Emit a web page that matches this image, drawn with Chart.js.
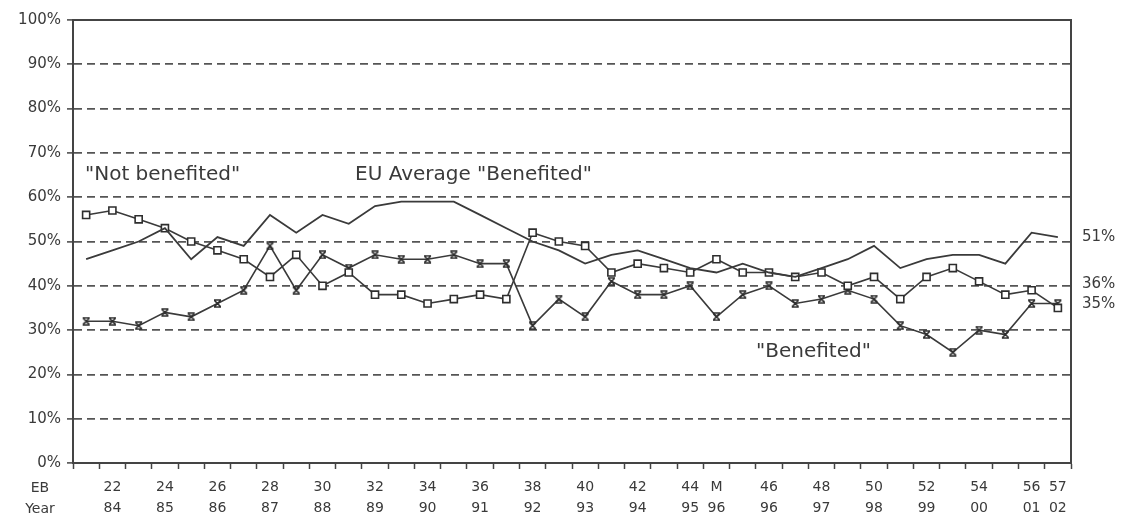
<!DOCTYPE html>
<html>
<head>
<meta charset="utf-8">
<script src="https://cdn.jsdelivr.net/npm/chart.js@4/dist/chart.umd.min.js"></script>
<style>
  html, body { margin: 0; padding: 0; background: #fff; }
  #wrap { width: 1127px; height: 519px; position: relative; }
</style>
</head>
<body>
<div id="wrap"><canvas id="chart" width="1127" height="519"></canvas></div>
<script>
// Eurobarometer survey waves (EB number / survey year); only alternate waves are labelled
const ebLabels = ['', '22', '', '24', '', '26', '', '28', '', '30', '', '32', '', '34', '', '36', '', '38', '', '40',
                  '', '42', '', '44', 'M', '', '46', '', '48', '', '50', '', '52', '', '54', '', '56', '57'];
const yearLabels = ['', '84', '', '85', '', '86', '', '87', '', '88', '', '89', '', '90', '', '91', '', '92', '', '93',
                    '', '94', '', '95', '96', '', '96', '', '97', '', '98', '', '99', '', '00', '', '01', '02'];

// Share of respondents (%)
const euAverageBenefited = [46, 48, 50, 53, 46, 51, 49, 56, 52, 56, 54, 58, 59, 59, 59, 56, 53, 50, 48, 45,
                            47, 48, 46, 44, 43, 45, 43, 42, 44, 46, 49, 44, 46, 47, 47, 45, 52, 51];
const notBenefited = [56, 57, 55, 53, 50, 48, 46, 42, 47, 40, 43, 38, 38, 36, 37, 38, 37, 52, 50, 49,
                      43, 45, 44, 43, 46, 43, 43, 42, 43, 40, 42, 37, 42, 44, 41, 38, 39, 35];
const benefited = [32, 32, 31, 34, 33, 36, 39, 49, 39, 47, 44, 47, 46, 46, 47, 45, 45, 31, 37, 33,
                   41, 38, 38, 40, 33, 38, 40, 36, 37, 39, 37, 31, 29, 25, 30, 29, 36, 36];

const yTickValues = [0, 10, 20, 30, 40, 50, 60, 70, 80, 90, 100];

const INK = '#3a3a3a';
Chart.defaults.font.family = 'DejaVu Sans';
Chart.defaults.color = INK;

// "X" marker with short bars top and bottom
function crossMarker(size) {
  const c = document.createElement('canvas');
  c.width = size; c.height = size;
  const g = c.getContext('2d');
  g.strokeStyle = '#2e2e2e';
  g.lineWidth = 1.6;
  g.beginPath();
  g.moveTo(1.5, 1.5); g.lineTo(size - 1.5, size - 1.5);
  g.moveTo(size - 1.5, 1.5); g.lineTo(1.5, size - 1.5);
  g.moveTo(1, 1); g.lineTo(size - 1, 1);
  g.moveTo(1, size - 1); g.lineTo(size - 1, size - 1);
  g.stroke();
  return c;
}

// Solid frame on the top and right edges of the plot area
const framePlugin = {
  id: 'frame',
  afterDatasetsDraw(chart) {
    const { ctx, chartArea: a } = chart;
    ctx.save();
    ctx.strokeStyle = '#444';
    ctx.lineWidth = 2;
    ctx.beginPath();
    ctx.moveTo(a.left, a.top);
    ctx.lineTo(a.right, a.top);
    ctx.lineTo(a.right, a.bottom);
    ctx.stroke();
    ctx.restore();
  }
};

// Series captions, end values and axis row titles
const notesPlugin = {
  id: 'notes',
  afterDraw(chart) {
    const { ctx, chartArea: a } = chart;
    const x = chart.scales.x, y = chart.scales.y;
    ctx.save();
    ctx.fillStyle = INK;
    ctx.textBaseline = 'middle';
    ctx.textAlign = 'left';
    ctx.font = '20px "DejaVu Sans"';
    ctx.fillText('"Not benefited"', 85, y.getPixelForValue(65));
    ctx.fillText('EU Average "Benefited"', 355, y.getPixelForValue(65));
    ctx.fillText('"Benefited"', 756, y.getPixelForValue(25));

    ctx.font = '15px "DejaVu Sans"';
    const last = ebLabels.length - 1;
    ctx.fillText(euAverageBenefited[last] + '%', a.right + 11, y.getPixelForValue(euAverageBenefited[last]));
    ctx.fillText(benefited[last] + '%', a.right + 11, y.getPixelForValue(benefited[last]) - 19);
    ctx.fillText(notBenefited[last] + '%', a.right + 11, y.getPixelForValue(notBenefited[last]) - 4);

    ctx.font = '14px "DejaVu Sans"';
    ctx.textAlign = 'center';
    ctx.fillText('EB', 40, x.top + 25);
    ctx.fillText('Year', 40, x.top + 46);
    ctx.restore();
  }
};

new Chart(document.getElementById('chart'), {
  type: 'line',
  data: {
    labels: ebLabels.map((eb, i) => [eb, yearLabels[i]]),
    datasets: [
      {
        label: 'EU Average "Benefited"',
        data: euAverageBenefited,
        borderColor: INK,
        borderWidth: 1.8,
        pointRadius: 0,
        tension: 0
      },
      {
        label: '"Not benefited"',
        data: notBenefited,
        borderColor: INK,
        borderWidth: 1.6,
        pointStyle: 'rect',
        pointRadius: 5,
        pointBackgroundColor: '#fff',
        pointBorderColor: '#2e2e2e',
        pointBorderWidth: 1.6,
        tension: 0
      },
      {
        label: '"Benefited"',
        data: benefited,
        borderColor: INK,
        borderWidth: 1.6,
        pointStyle: crossMarker(9),
        pointRadius: 5,
        tension: 0
      }
    ]
  },
  options: {
    responsive: false,
    animation: false,
    devicePixelRatio: 1,
    layout: { padding: { left: 0, right: 56, top: 20, bottom: 0 } },
    plugins: { legend: { display: false }, tooltip: { enabled: false } },
    scales: {
      x: {
        offset: true,
        grid: { offset: true, drawOnChartArea: false, drawTicks: true, tickLength: 6, tickColor: '#444', tickWidth: 1.5 },
        border: { display: true, color: '#444', width: 2 },
        ticks: { autoSkip: false, maxRotation: 0, minRotation: 0, padding: 8, color: INK,
                 font: { family: 'DejaVu Sans', size: 14, lineHeight: 1.5 } },
        afterFit(s) { s.height = 56; }
      },
      y: {
        min: 0,
        max: 100,
        afterBuildTicks(s) { s.ticks = yTickValues.map(v => ({ value: v })); },
        ticks: { padding: 6, color: INK, callback: v => v + '%', font: { family: 'DejaVu Sans', size: 15 } },
        grid: { color: '#555', lineWidth: 1.8, tickLength: 6, tickColor: '#444', tickWidth: 1.5, tickBorderDash: [] },
        border: { display: true, color: '#444', width: 2, dash: [8, 5] },
        afterFit(s) { s.width = 73; }
      }
    }
  },
  plugins: [framePlugin, notesPlugin]
});
</script>
</body>
</html>
